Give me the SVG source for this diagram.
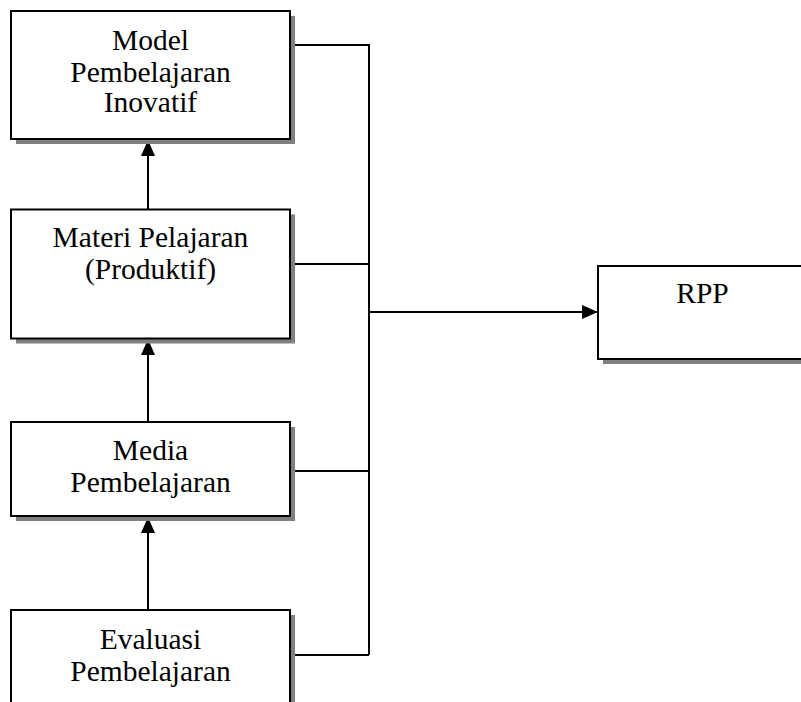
<svg xmlns="http://www.w3.org/2000/svg" width="801" height="702" viewBox="0 0 801 702">
<style>
.box{fill:#fff;stroke:#000;stroke-width:2}
.sh{fill:#808080}
.t{font-family:"Liberation Serif","Times New Roman",serif;font-size:29.5px;fill:#000;text-anchor:middle}
.ln{fill:none;stroke:#000;stroke-width:2}
</style>
<defs>
<marker id="ah" markerUnits="userSpaceOnUse" markerWidth="16" markerHeight="14" refX="16" refY="7" orient="auto">
<path d="M0,0 L16,7 L0,14 Z" fill="#000"/>
</marker>
</defs>
<rect width="801" height="702" fill="#fff"/>
<g id="connectors">
<path class="ln" d="M290,45 H369 V655 M290,264 H369 M290,471 H369 M290,655 H369"/>
<line class="ln" x1="369" y1="312" x2="598" y2="312" marker-end="url(#ah)"/>
<line class="ln" x1="148" y1="209" x2="148" y2="140" marker-end="url(#ah)"/>
<line class="ln" x1="148" y1="422" x2="148" y2="339" marker-end="url(#ah)"/>
<line class="ln" x1="148" y1="610" x2="148" y2="517" marker-end="url(#ah)"/>
</g>
<g id="model">
<rect class="sh" x="16" y="16" width="279" height="128"/>
<rect class="box" x="11" y="11" width="279" height="128"/>
<text class="t" x="150.5" y="50">Model</text>
<text class="t" x="150.5" y="81.5">Pembelajaran</text>
<text class="t" x="150.5" y="112">Inovatif</text>
</g>
<g id="materi">
<rect class="sh" x="16" y="214.5" width="279" height="129"/>
<rect class="box" x="11" y="209.5" width="279" height="129"/>
<text class="t" x="150.5" y="247">Materi Pelajaran</text>
<text class="t" x="150.5" y="279">(Produktif)</text>
</g>
<g id="media">
<rect class="sh" x="16" y="427" width="279" height="94"/>
<rect class="box" x="11" y="422" width="279" height="94"/>
<text class="t" x="150.5" y="460">Media</text>
<text class="t" x="150.5" y="492">Pembelajaran</text>
</g>
<g id="evaluasi">
<rect class="sh" x="16" y="615" width="279" height="120"/>
<rect class="box" x="11" y="610" width="279" height="120"/>
<text class="t" x="150.5" y="649">Evaluasi</text>
<text class="t" x="150.5" y="681">Pembelajaran</text>
</g>
<g id="rpp">
<rect class="sh" x="603" y="271" width="220" height="93"/>
<rect class="box" x="598" y="266" width="220" height="93"/>
<text class="t" x="702.5" y="303">RPP</text>
</g>
</svg>
